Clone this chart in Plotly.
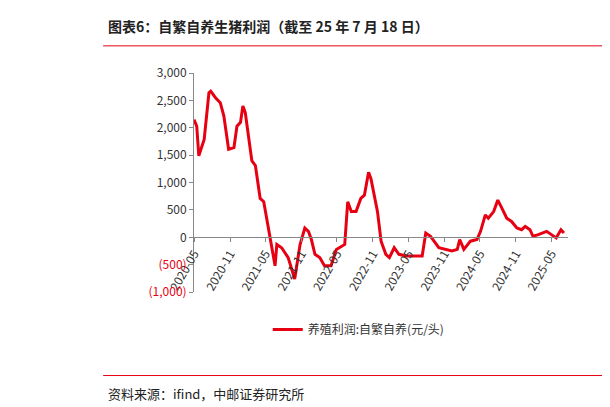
import pandas as pd
import plotly.graph_objs as go

# months elapsed since 2020-05-01, and profit (yuan/head)
month_offsets = [0, 0.45, 0.8, 1.7, 2.5, 2.8, 3.6, 4.4, 5, 5.8, 6.7, 7.2, 7.8, 8.2, 8.6, 9.2,
                 9.7, 10.3, 11.1, 11.7, 12.5, 13, 13.6, 13.9, 14.7, 15.8, 16.9, 17.8, 18.6,
                 19.2, 19.7, 20.3, 21.1, 21.9, 23, 23.9, 25.3, 25.8, 26.4, 27.2, 28, 28.6,
                 29.3, 29.7, 30.3, 30.8, 31.4, 32.2, 32.8, 33.6, 34.4, 35.6, 37.2, 38.3,
                 38.9, 39.7, 41.1, 42.2, 43.3, 44.2, 44.6, 45.3, 46.4, 47.5, 48.1, 48.9,
                 49.4, 50.3, 51, 51.7, 52.5, 53.3, 54.2, 55, 55.6, 56.4, 56.9, 57.8, 59.2,
                 60, 60.8, 61.6, 62.1]
profit = [2150, 2030, 1490, 1790, 2640, 2670, 2550, 2460, 2220, 1610, 1640, 2030, 2100, 2400,
          2280, 1790, 1400, 1310, 710, 650, 170, -190, -520, -130, -190, -370, -760, -130,
          170, 110, -40, -310, -370, -520, -520, -220, -130, 650, 470, 470, 710, 770, 1190,
          1070, 710, 470, -70, -310, -370, -190, -310, -340, -340, -340, 80, 20, -190, -220,
          -250, -220, -40, -220, -70, -40, 110, 410, 350, 470, 680, 530, 350, 290, 170, 140,
          200, 140, 20, 50, 110, 50, -10, 140, 80]

x_ticks = ["2020-05", "2020-11", "2021-05", "2021-11", "2022-05", "2022-11", "2023-05",
           "2023-11", "2024-05", "2024-11", "2025-05"]
y_ticks = [3000, 2500, 2000, 1500, 1000, 500, 0, -500, -1000]
y_labels = ["3,000", "2,500", "2,000", "1,500", "1,000", "500", "0",
            "<span style='color:#e60012'>(500)</span>",
            "<span style='color:#e60012'>(1,000)</span>"]

RED = "#e60012"
FONT = "Noto Sans CJK SC"

dates = pd.Timestamp("2020-05-01") + pd.to_timedelta([m * 30.44 for m in month_offsets], unit="D")

fig = go.Figure()
fig.add_trace(go.Scatter(x=dates, y=profit, mode="lines", line=dict(color=RED, width=3),
                         name="养殖利润:自繁自养(元/头)"))

fig.update_layout(
    width=610, height=407, margin=dict(l=0, r=0, t=0, b=0, autoexpand=False),
    paper_bgcolor="white", plot_bgcolor="white",
    font=dict(family=FONT, size=12, color="#333"),
    showlegend=True,
    legend=dict(orientation="h", x=0.575, y=0.21, xanchor="center", yanchor="middle",
                font=dict(size=12, color="#333")),
    xaxis=dict(domain=[0.305, 0.918], anchor="free", position=0.437, automargin=False,
               range=[pd.Timestamp("2020-05-01"), pd.Timestamp("2025-07-25")],
               tickvals=[pd.Timestamp(t + "-01") for t in x_ticks], ticktext=x_ticks,
               tickangle=-60, showgrid=False, showline=True, linecolor="#888",
               ticks="outside", ticklen=4, tickcolor="#888", zeroline=False),
    yaxis=dict(domain=[0.302, 0.840], range=[-1000, 3000], tickvals=y_ticks, ticktext=y_labels,
               automargin=False, showgrid=False, showline=True, linecolor="#888",
               ticks="outside", ticklen=4, tickcolor="#888", zeroline=False),
)

fig.add_annotation(text="<b>图表6：自繁自养生猪利润（截至 25 年 7 月 18 日）</b>", xref="paper",
                   yref="paper", x=0.16, y=0.955, xanchor="left", yanchor="middle",
                   showarrow=False, font=dict(size=14, color="#222"))
fig.add_annotation(text="<b>图</b>", xref="paper", yref="paper", x=0.985, y=0.955,
                   xanchor="left", yanchor="middle", showarrow=False,
                   font=dict(size=14, color="#222"))
fig.add_annotation(text="资料来源：ifind，中邮证券研究所", xref="paper", yref="paper",
                   x=0.16, y=0.052, xanchor="left", yanchor="middle", showarrow=False,
                   font=dict(size=13, color="#222"))
fig.add_shape(type="line", xref="paper", yref="paper", x0=0.156, x1=1, y0=0.907, y1=0.907,
              line=dict(color=RED, width=1))
fig.add_shape(type="line", xref="paper", yref="paper", x0=0.156, x1=1, y0=0.097, y1=0.097,
              line=dict(color=RED, width=1))

fig.write_html("out.html")
